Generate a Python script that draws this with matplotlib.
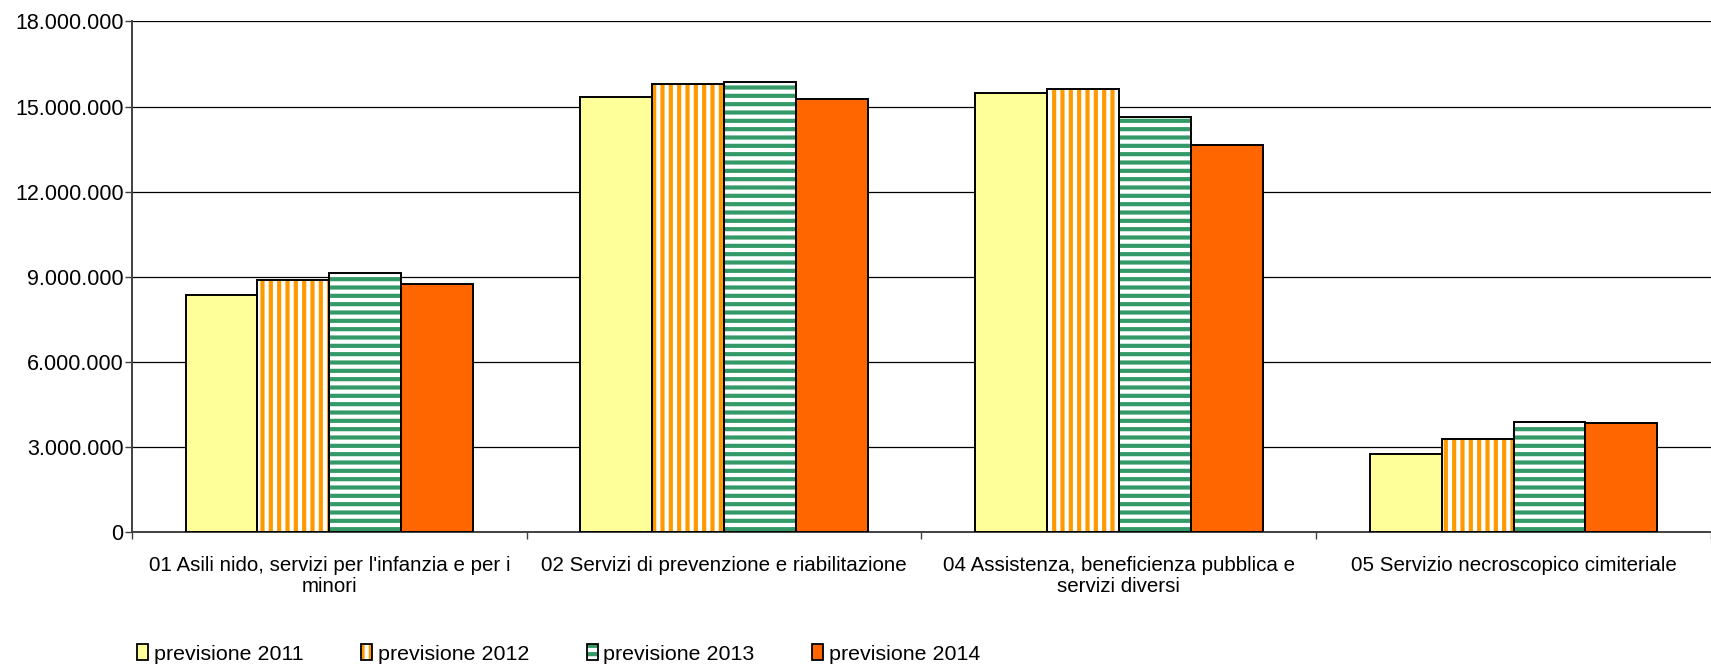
import matplotlib.pyplot as plt
from matplotlib.patches import Patch
from matplotlib.legend_handler import HandlerTuple
from matplotlib.ticker import FuncFormatter
import numpy as np

plt.rcParams['font.family'] = ['Liberation Sans', 'DejaVu Sans']
plt.rcParams['hatch.linewidth'] = 3.0

categories = ["01 Asili nido, servizi per l'infanzia e per i\nminori",
              "02 Servizi di prevenzione e riabilitazione",
              "04 Assistenza, beneficienza pubblica e\nservizi diversi",
              "05 Servizio necroscopico cimiteriale"]
series = ['previsione 2011', 'previsione 2012', 'previsione 2013', 'previsione 2014']
prev_2011 = [8350000, 15330000, 15470000, 2760000]
prev_2012 = [8890000, 15800000, 15620000, 3280000]
prev_2013 = [9120000, 15870000, 14620000, 3890000]
prev_2014 = [8750000, 15280000, 13660000, 3850000]
yticks = [0, 3000000, 6000000, 9000000, 12000000, 15000000, 18000000]

values = [prev_2011, prev_2012, prev_2013, prev_2014]
# face colour, hatch, hatch colour
styles = [('#FFFF99', '', None),
          ('white', '||', '#FF9900'),
          ('white', '--', '#339966'),
          ('#FF6600', '', None)]

fig = plt.figure(figsize=(17.11, 6.65), dpi=100)
ax = fig.add_axes([0.0771, 0.2, 0.9229, 0.7677])

x = np.arange(len(categories))
w = 0.182
handles = []
for i, (vals, (fc, hatch, hc)) in enumerate(zip(values, styles)):
    pos = x + (i - 1.5) * w
    if hatch:
        ax.bar(pos, vals, w, color=fc, hatch=hatch, edgecolor=hc, linewidth=0, zorder=3)
        p1 = Patch(facecolor=fc, hatch=hatch, edgecolor=hc, linewidth=0)
    else:
        ax.bar(pos, vals, w, color=fc, linewidth=0, zorder=3)
        p1 = Patch(facecolor=fc, linewidth=0)
    ax.bar(pos, vals, w, fill=False, edgecolor='black', linewidth=1.4, zorder=4)
    p2 = Patch(fill=False, edgecolor='black', linewidth=1.3)
    handles.append((p1, p2))

ax.set_xlim(-0.5, 3.5)
ax.set_ylim(0, 18000000)
ax.set_yticks(yticks)
ax.yaxis.set_major_formatter(FuncFormatter(lambda v, p: f'{int(v):,}'.replace(',', '.')))
ax.set_xticks(x)
ax.set_xticklabels(categories, fontsize=14.8, linespacing=1.15)
ax.set_xticks(np.arange(-0.5, 4.0, 1.0), minor=True)
ax.tick_params(axis='x', which='major', length=0, pad=17)
ax.tick_params(axis='x', which='minor', length=5, width=1, color='#404040', direction='out')
ax.tick_params(axis='y', length=5, width=1, color='#404040', labelsize=15.5, pad=1)

ax.grid(axis='y', color='black', linewidth=0.9, zorder=0)
for s in ['top', 'right']:
    ax.spines[s].set_visible(False)
for s in ['left', 'bottom']:
    ax.spines[s].set_color('#404040')
    ax.spines[s].set_linewidth(1.4)

fig.legend(handles, series, handler_map={tuple: HandlerTuple(ndivide=1, pad=0)},
           loc='lower left', bbox_to_anchor=(0.069, -0.027), ncol=4, frameon=False,
           fontsize=15.4, handlelength=0.52, handleheight=0.8, handletextpad=0.25,
           columnspacing=2.7)

fig.savefig('out.png', dpi=100)
